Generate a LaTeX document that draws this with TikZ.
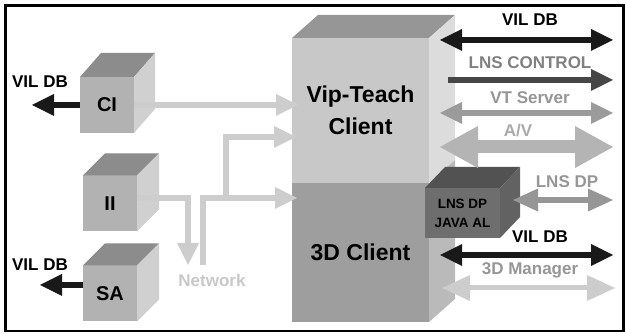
\documentclass[tikz,border=0pt]{standalone}
\usepackage{fontspec}
\setmainfont{Liberation Sans}
\usetikzlibrary{arrows.meta,calc}
\definecolor{vtfront}{RGB}{200,200,200}
\definecolor{tdfront}{RGB}{158,158,158}
\definecolor{bigtop}{RGB}{150,150,150}
\definecolor{vtside}{RGB}{220,220,220}
\definecolor{tdside}{RGB}{186,186,186}
\definecolor{cfront}{RGB}{178,178,178}
\definecolor{ctop}{RGB}{140,140,140}
\definecolor{cside}{RGB}{208,208,208}
\definecolor{lfront}{RGB}{110,110,110}
\definecolor{ltop}{RGB}{82,82,82}
\definecolor{lside}{RGB}{98,98,98}
\definecolor{conncol}{RGB}{205,205,205}
\definecolor{blkcol}{RGB}{25,25,25}
\definecolor{ctrlcol}{RGB}{70,70,70}
\definecolor{vtscol}{RGB}{155,155,155}
\definecolor{avcol}{RGB}{180,180,180}
\definecolor{lnscol}{RGB}{150,150,150}
\definecolor{mgrcol}{RGB}{205,205,205}
\definecolor{txtA}{RGB}{128,128,128}
\definecolor{txtB}{RGB}{150,150,150}
\definecolor{txtC}{RGB}{170,170,170}
\definecolor{txtN}{RGB}{200,200,200}
\newcommand\cubefaces[5]{%
  \fill[#4] (#1.north west) -- ++(#2,#3) -- ($(#1.north east)+(#2,#3)$) -- (#1.north east) -- cycle;
  \fill[#5] (#1.north east) -- ++(#2,#3) -- ($(#1.south east)+(#2,#3)$) -- (#1.south east) -- cycle;}
\begin{document}
\begin{tikzpicture}[x=1pt,y=1pt,
  face/.style={inner sep=0pt,outer sep=0pt,draw=none,align=center},
  small/.style={face,fill=cfront,minimum width=54pt,minimum height=56pt,font=\bfseries\fontsize{20}{22}\selectfont},
  big/.style={face,minimum width=137pt,font=\bfseries\fontsize{23}{32}\selectfont},
  lbl/.style={inner sep=0pt,font=\bfseries\fontsize{17}{19}\selectfont},
  hd/.tip={Triangle[length=22pt,width=22pt,line width=0pt]},
  hdw/.tip={Triangle[length=38pt,width=42pt,line width=0pt]},
  hdm/.tip={Triangle[length=28pt,width=26pt,line width=0pt]},
  hdl/.tip={Triangle[length=25pt,width=23pt,line width=0pt]},
  conn/.style={draw=conncol,line width=6pt,-hd},
  single/.style={line width=6.5pt,-hd},
  dbl/.style={line width=6.5pt,hd-hd}]
\useasboundingbox (0,0) rectangle (626,334);
\draw[line width=2.5pt] (5.3,3) rectangle (623.5,328.7);

% small cubes
\node[small] (ci) at (107,229) {CI};
\cubefaces{ci}{21}{24}{ctop}{cside}
\node[small] (ii) at (110,130.5) {II};
\cubefaces{ii}{22}{22}{ctop}{cside}
\node[small] (sa) at (110,40.5) {SA};
\cubefaces{sa}{22}{22}{ctop}{cside}

% big block
\node[big,fill=vtfront,minimum height=145pt] (vt) at (360.5,223.5) {Vip-Teach\\Client};
\node[big,fill=tdfront,minimum height=139pt] (td) at (360.5,81.5) {3D Client};
\fill[bigtop] (vt.north west) -- ++(26,23) -- ($(vt.north east)+(26,23)$) -- (vt.north east) -- cycle;
\fill[vtside] (vt.north east) -- ++(26,23) -- ($(vt.south east)+(26,23)$) -- (vt.south east) -- cycle;
\fill[tdside] (td.north east) -- ++(26,23) -- ($(td.south east)+(26,23)$) -- (td.south east) -- cycle;

% LNS DP cube
\node[face,fill=lfront,minimum width=75pt,minimum height=50pt,font=\bfseries\fontsize{13.5}{19}\selectfont] (lns) at (462.5,121) {LNS DP\\JAVA AL};
\cubefaces{lns}{20}{21}{ltop}{lside}

% left side VIL DB arrows
\coordinate (cil) at (32,229);
\coordinate (sal) at (40,49);
\draw[single,blkcol] (ci.west) -- (cil);
\draw[single,blkcol] ([yshift=8.5pt]sa.west) -- (sal);
\node[lbl] (cilbl) at (40,252) {VIL DB};
\node[lbl] (salbl) at (40,69) {VIL DB};

% network connectors
\coordinate (net) at (188,69);
\coordinate (nb) at (203,69);
\coordinate (br) at (226,136);
\coordinate (brtop) at (226,197);
\draw[conn] (ci.east) -- ([xshift=6pt]vt.west |- ci.east);
\draw[conn] ([yshift=5.5pt]ii.east) -| (net);
\draw[conn] (nb) |- ([xshift=5pt]td.west |- br);
\draw[conn] (br) |- ([xshift=4pt]vt.west |- brtop);
\node[lbl,text=txtN] (netlbl) at (212,54) {Network};

% right side arrows
\coordinate (r1l) at (440,294); \coordinate (r1r) at (613,294);
\coordinate (r2l) at (448,254); \coordinate (r2r) at (613,254);
\coordinate (r3l) at (440,221); \coordinate (r3r) at (613,221);
\coordinate (r4l) at (440,187); \coordinate (r4r) at (613,187);
\coordinate (r5r) at (613,134);
\coordinate (r6l) at (440,79);  \coordinate (r6r) at (613,79);
\coordinate (r7l) at (442,46);  \coordinate (r7r) at (615,46);
\draw[dbl,blkcol] (r1l) -- (r1r);
\draw[single,ctrlcol] (r2l) -- (r2r);
\draw[dbl,vtscol] (r3l) -- (r3r);
\draw[line width=13pt,hdw-hdw,avcol] (r4l) -- (r4r);
\draw[line width=6.5pt,hdl-hdl,lnscol] ([xshift=13pt]lns.east |- r5r) -- (r5r);
\draw[dbl,blkcol] (r6l) -- (r6r);
\draw[line width=5pt,hdm-hdm,mgrcol] (r7l) -- (r7r);

\node[lbl] (l1) at (530,314) {VIL DB};
\node[lbl,text=txtA] (l2) at (530,271) {LNS CONTROL};
\node[lbl,text=txtB] (l3) at (530,236) {VT Server};
\node[lbl,text=txtC] (l4) at (518,203) {A/V};
\node[lbl,text=txtB] (l5) at (567,152) {LNS DP};
\node[lbl] (l6) at (540,97) {VIL DB};
\node[lbl,text=txtB] (l7) at (530,64) {3D Manager};
\end{tikzpicture}
\end{document}
